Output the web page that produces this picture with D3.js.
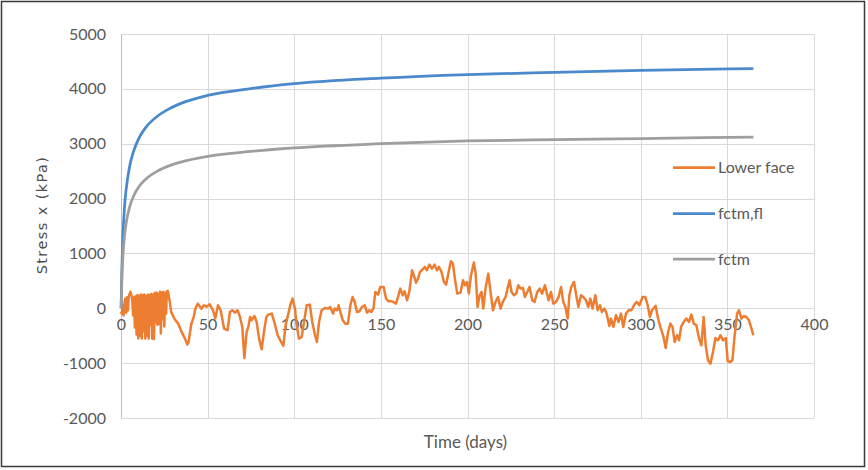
<!DOCTYPE html>
<html>
<head>
<meta charset="utf-8">
<script src="https://cdn.jsdelivr.net/npm/d3@7"></script>
<style>
  html, body { margin: 0; padding: 0; background: #fff; }
  svg { display: block; }
</style>
</head>
<body>
<svg id="chart" width="868" height="470"></svg>
<script>
// ---- Data ----
const xTicks = [0, 50, 100, 150, 200, 250, 300, 350, 400];
const yTicks = [-2000, -1000, 0, 1000, 2000, 3000, 4000, 5000];

const seriesNames = ["Lower face", "fctm,fl", "fctm"];

const strengthTime = [0, 0.1, 0.25, 0.5, 1, 2, 3, 5, 7, 10, 14, 21, 28, 35, 50, 75, 100, 150, 200, 250, 300, 365];
const fctmFl = [0, 70, 335, 720, 1245, 1835, 2175, 2590, 2835, 3080, 3285, 3500, 3640, 3740, 3880, 4005, 4095, 4195, 4260, 4300, 4335, 4370];
const fctm   = [0, 50, 240, 515, 890, 1310, 1555, 1850, 2025, 2200, 2345, 2500, 2600, 2670, 2770, 2860, 2925, 3000, 3050, 3075, 3095, 3120];

const lowerFaceTime = [
  0, 0.5, 1, 1.5, 2, 2.5, 3, 3.5, 4, 4.5, 5, 5.5, 6, 6.5, 7, 7.5, 8, 8.5, 9, 9.5,
  10, 10.5, 11, 11.5, 12, 12.5, 13, 13.5, 14, 14.5, 15, 15.5, 16, 16.5, 17, 17.5, 18, 18.5, 19, 19.5,
  20, 20.5, 21, 21.5, 22, 22.5, 23, 23.5, 24, 24.5, 25, 25.5, 26, 26.5, 27, 28, 29, 31, 33, 35,
  37, 38.3, 39, 40.5, 42, 43, 44.4, 46.4, 47.9, 49.5, 51.2, 53.1, 54.4, 56, 57.5, 59.5,
  61.5, 62.9, 64.2, 65.8, 67.3, 68.7, 70, 71.2, 72.5, 73.5, 74.5, 75.4, 77, 78.3, 79.7, 81.2, 82.5, 83.9, 85, 87,
  88.5, 90.4, 92.4, 93.7, 95, 96.6, 97.7, 99, 100.4, 101.4, 102.7, 104.3, 105.8, 107.2, 109, 110.4, 112, 113.1, 114.3, 115.8,
  117.7, 119.7, 120.8, 122.4, 123.3, 124.7, 125.6, 126.6, 128, 129.5, 131, 132.4, 133.7, 134.9, 136.2, 137.6, 139.1, 140.7, 142, 143.4,
  144.5, 145.7, 146.8, 148.4, 149.7, 151.6, 153, 154.5, 156.4, 158.7, 159.9, 161.2, 162.6, 163.7, 165.1, 166.4, 168, 169, 170.3, 171.4,
  172.6, 173.7, 175.3, 176.6, 178, 179.5, 181, 182.4, 183.5, 185, 186.4, 187.7, 189.3, 190.4, 191.6, 192.7, 194.1, 196, 197.4, 198.5,
  199.7, 200.8, 202, 203.7, 204.7, 205.8, 207, 208.1, 209.1, 210.4, 212, 213.3, 214.7, 216.2, 217.6, 219.1, 220.4, 222, 223.1, 224.3,
  225.4, 226.8, 228.1, 229.3, 230.6, 232, 233.1, 234.5, 235.8, 237.4, 238.7, 240.3, 241.6, 243.1, 244.7, 246.8, 248.2, 249.5, 251.1, 252.6,
  254, 255.3, 256.5, 257.8, 258.8, 259.9, 261.5, 262.6, 264, 265.5, 266.8, 268.4, 269.7, 270.9, 272.2, 273.8, 275.1, 276.5, 277.6, 279,
  280.3, 281.9, 282.8, 284.2, 285.7, 287.2, 288.6, 289.9, 291.5, 293, 294.6, 296.1, 297.6, 299.2, 301.1, 302.6, 304, 305.3, 306.5, 308.6,
  310, 311.3, 312.9, 314.4, 315.8, 317.1, 318.3, 319.6, 321, 322.1, 323.3, 324.8, 326.3, 327.9, 329.2, 330.6, 332.1, 333.7, 335, 336.3,
  337.5, 338.8, 340.2, 341.7, 343.1, 344.6, 346, 347.5, 349.1, 350.2, 351.7, 352.9, 354.2, 355.6, 356.7, 358.1, 359.4, 361, 362.5, 363.9, 365
];
const lowerFaceStress = [
  -60, -100, 50, -130, 100, 180, -80, 200, -40, 220, 260, 300, 240, 150, -130, 200, -350, 220, -480, 240,
  -550, 230, -500, 250, -550, 240, -420, 250, -550, 220, -500, 250, -550, 240, -300, 260, -550, 250, -560, 280,
  -250, 290, -300, 260, -280, 300, -460, 290, -200, 300, -330, 280, -100, 310, 320, 150, -70, -200, -280, -430,
  -560, -660, -620, -300, -150, 0, 85, -6, 55, 30, 73, -36, -188, 55, -36, -370,
  -400, -67, -36, -79, -36, -158, -340, -906, -432, -340, -158, -219, -140, -250, -553, -748, -432, -158, -115, -97,
  -250, -492, -614, -687, -310, -97, 55, 176, -6, -310, -553, -523, -219, 55, 67, -250, -492, -614, -250, -36,
  6, -6, 24, -97, -6, -36, 55, -67, -219, -280, -280, 55, 207, 116, -67, -55, 24, 55, -79, -36,
  -67, -6, 298, 250, 389, 389, 176, 128, 128, 85, 207, 359, 237, 310, 146, 298, 693, 602, 468, 541,
  663, 693, 754, 693, 796, 723, 796, 693, 754, 663, 480, 432, 693, 857, 815, 541, 268, 286, 510, 420,
  480, 268, 602, 833, 632, 24, 237, 298, -6, 359, 632, 298, -36, 116, 207, -6, 116, 207, 359, 510,
  298, 237, 268, 420, 359, 371, 207, 298, 389, 146, 116, 298, 359, 268, 420, 146, 298, 85, 116, 207,
  389, 116, 24, -188, 237, 389, 480, 268, 24, 237, 207, 146, 24, 176, -6, 237, -36, 55, -67, -6,
  -97, -322, -188, -340, -128, -250, -97, -340, -97, -36, -36, 55, 116, 55, 207, 207, 55, -158, -36, 43,
  -188, -340, -492, -723, -432, -280, -340, -614, -492, -584, -340, -250, -188, -250, -115, -280, -310, -553, -675, -158,
  -675, -948, -1009, -796, -541, -584, -492, -584, -541, -967, -979, -948, -492, -97, -36, -188, -140, -158, -219, -371, -492
];

// ---- Layout ----
const W = 868, H = 470;
const plot = { left: 121, right: 814, top: 34, bottom: 418 };
const colors = { lower: "#ED7D31", fl: "#4A89CB", fctm: "#9E9E9E" };
const textColor = "#595959";
const gridColor = "#D9D9D9";
const labelFont = "Lato, 'Open Sans', sans-serif";

const svg = d3.select("#chart");

// outer frame
svg.append("rect")
  .attr("x", 1.5).attr("y", 1.5)
  .attr("width", W - 5).attr("height", H - 5)
  .attr("fill", "#fff").attr("stroke", "#3a3a3a").attr("stroke-width", 1.5);

const x = d3.scaleLinear().domain([0, 400]).range([plot.left, plot.right]);
const y = d3.scaleLinear().domain([-2000, 5000]).range([plot.bottom, plot.top]);

// gridlines
const grid = svg.append("g");
grid.selectAll("line.h").data(yTicks).join("line")
  .attr("x1", plot.left).attr("x2", plot.right)
  .attr("y1", d => Math.round(y(d)) + 0.5).attr("y2", d => Math.round(y(d)) + 0.5)
  .attr("stroke", gridColor).attr("stroke-width", 1);
grid.selectAll("line.v").data(xTicks).join("line")
  .attr("y1", plot.top).attr("y2", plot.bottom)
  .attr("x1", d => Math.round(x(d)) + 0.5).attr("x2", d => Math.round(x(d)) + 0.5)
  .attr("stroke", d => d === 0 ? "#BFBFBF" : gridColor).attr("stroke-width", 1);

// y axis labels
const yAxis = d3.axisLeft(y).tickValues(yTicks).tickSize(0).tickPadding(15).tickFormat(d => String(d));
const gy = svg.append("g").attr("transform", `translate(${plot.left},0)`).call(yAxis);
gy.select(".domain").remove();
gy.selectAll("text")
  .attr("fill", textColor)
  .style("font-family", labelFont)
  .style("font-size", "16px");

// x axis labels placed at the zero line
const xAxis = d3.axisBottom(x).tickValues(xTicks).tickSize(0).tickPadding(10).tickFormat(d => String(d));
const gx = svg.append("g").attr("transform", `translate(0,${y(0)})`).call(xAxis);
gx.select(".domain").remove();
gx.selectAll("text")
  .attr("fill", textColor)
  .style("font-family", labelFont)
  .style("font-size", "16px");

// series
const lowerData = lowerFaceTime.map((t, i) => [t, lowerFaceStress[i]]);
const flData = strengthTime.map((t, i) => [t, fctmFl[i]]);
const fctmData = strengthTime.map((t, i) => [t, fctm[i]]);

const lineLin = d3.line().x(d => x(d[0])).y(d => y(d[1]));
const lineSmooth = d3.line().x(d => x(d[0])).y(d => y(d[1])).curve(d3.curveMonotoneX);

svg.append("path").datum(lowerData)
  .attr("d", lineLin).attr("fill", "none")
  .attr("stroke", colors.lower).attr("stroke-width", 2.5).attr("stroke-linejoin", "round");
svg.append("path").datum(flData)
  .attr("d", lineSmooth).attr("fill", "none")
  .attr("stroke", colors.fl).attr("stroke-width", 2.75).attr("stroke-linejoin", "round");
svg.append("path").datum(fctmData)
  .attr("d", lineSmooth).attr("fill", "none")
  .attr("stroke", colors.fctm).attr("stroke-width", 2.75).attr("stroke-linejoin", "round");

// legend
const legendColors = [colors.lower, colors.fl, colors.fctm];
const legY = [167.5, 213.5, 259];
const leg = svg.append("g");
seriesNames.forEach((name, i) => {
  leg.append("line")
    .attr("x1", 673).attr("x2", 715)
    .attr("y1", legY[i]).attr("y2", legY[i])
    .attr("stroke", legendColors[i]).attr("stroke-width", 2.75);
  leg.append("text")
    .attr("x", 718).attr("y", legY[i])
    .attr("dy", "0.35em")
    .attr("fill", textColor)
    .style("font-family", labelFont)
    .style("font-size", "16px")
    .text(name);
});

// axis titles
svg.append("text")
  .attr("x", (plot.left + plot.right) / 2 - 2).attr("y", 448)
  .attr("text-anchor", "middle")
  .attr("fill", textColor)
  .style("font-family", labelFont)
  .style("font-size", "17px")
  .text("Time (days)");

svg.append("text")
  .attr("transform", "translate(47,215) rotate(-90)")
  .attr("text-anchor", "middle")
  .attr("fill", "#4d4d4d")
  .style("font-family", "'DejaVu Sans', sans-serif")
  .style("font-size", "14.5px")
  .style("letter-spacing", "1.4px")
  .text("Stress x (kPa)");
</script>
</body>
</html>
